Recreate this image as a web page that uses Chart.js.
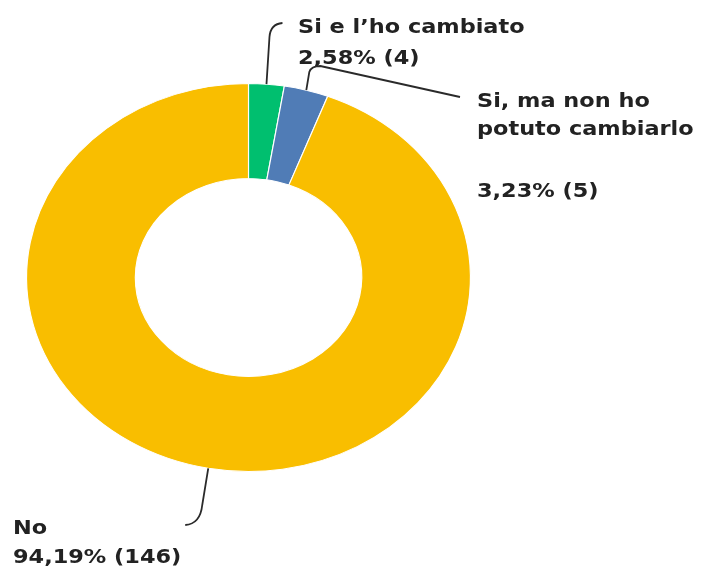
<!DOCTYPE html>
<html><head><meta charset="utf-8">
<script src="https://cdn.jsdelivr.net/npm/chart.js@4/dist/chart.umd.min.js"></script>
<style>html,body{margin:0;padding:0;background:#fff;overflow:hidden}#wrap{width:704px;height:568px}</style>
</head><body><div id="wrap"><canvas id="c" width="704" height="568"></canvas></div>
<script>
const categories = ['Si e l’ho cambiato', 'Si, ma non ho potuto cambiarlo', 'No'];
const labelLines = [['Si e l’ho cambiato'], ['Si, ma non ho', 'potuto cambiarlo', ''], ['No']];
const counts = [4, 5, 146];
const colors = ['#00BF6F', '#507CB6', '#F9BE00'];

const SX = 1.144;  // horizontal stretch of the reference donut
const TSX = 1.12;  // horizontal stretch of the label text
const total = counts.reduce((a, b) => a + b, 0);
const pctText = counts.map(v => (v / total * 100).toFixed(2).replace('.', ',') + '% (' + v + ')');

// label layout (text left x and line baselines), leader-line shapes relative to anchor
const layouts = [
  { tx: 298, base: [33, 64],
    path: (ctx, A) => { ctx.moveTo(A.x, A.y); ctx.lineTo(A.x + 3, 37); ctx.quadraticCurveTo(A.x + 4, 24, A.x + 16, 23); } },
  { tx: 477, base: [107, 135, 166, 197],
    path: (ctx, A) => { ctx.moveTo(A.x, A.y); ctx.lineTo(A.x + 3, 72); ctx.quadraticCurveTo(A.x + 5, 66, A.x + 14, 66); ctx.lineTo(460, 97); } },
  { tx: 13, base: [534, 563],
    path: (ctx, A) => { ctx.moveTo(A.x, A.y); ctx.lineTo(A.x - 6, 505); ctx.quadraticCurveTo(A.x - 8, 524, A.x - 23, 525); } }
];

const stretch = {
  id: 'stretch',
  beforeDatasetsDraw(chart) {
    const a = chart.getDatasetMeta(0).data[0];
    const ctx = chart.ctx;
    ctx.save();
    ctx.translate(a.x, 0); ctx.scale(SX, 1); ctx.translate(-a.x, 0);
  },
  afterDatasetsDraw(chart) { chart.ctx.restore(); }
};

const labelsPlugin = {
  id: 'calloutLabels',
  afterDraw(chart) {
    const ctx = chart.ctx;
    const meta = chart.getDatasetMeta(0);
    meta.data.forEach((arc, i) => {
      const mid = (arc.startAngle + arc.endAngle) / 2;
      const A = { x: arc.x + Math.cos(mid) * arc.outerRadius * SX, y: arc.y + Math.sin(mid) * arc.outerRadius };
      const L = layouts[i];
      ctx.save();
      ctx.strokeStyle = '#2a2a2a';
      ctx.lineWidth = 1.8;
      ctx.beginPath();
      L.path(ctx, A);
      ctx.stroke();
      ctx.restore();

      const lines = labelLines[i].concat([pctText[i]]);
      ctx.save();
      ctx.scale(TSX, 1);
      ctx.fillStyle = '#222222';
      ctx.font = 'bold 20px "DejaVu Sans"';
      ctx.textBaseline = 'alphabetic';
      ctx.textAlign = 'left';
      lines.forEach((t, j) => { if (t) ctx.fillText(t, L.tx / TSX, L.base[j]); });
      ctx.restore();
    });
  }
};

new Chart(document.getElementById('c'), {
  type: 'doughnut',
  data: {
    labels: categories,
    datasets: [{
      data: counts,
      backgroundColor: colors,
      borderColor: '#ffffff',
      borderWidth: 1,
      clip: false
    }]
  },
  options: {
    responsive: false,
    animation: false,
    events: [],
    cutout: '51%',
    layout: { padding: { top: 83, bottom: 96, left: 54, right: 261 } },
    plugins: { legend: { display: false }, tooltip: { enabled: false } }
  },
  plugins: [stretch, labelsPlugin]
});
</script>
</body></html>
